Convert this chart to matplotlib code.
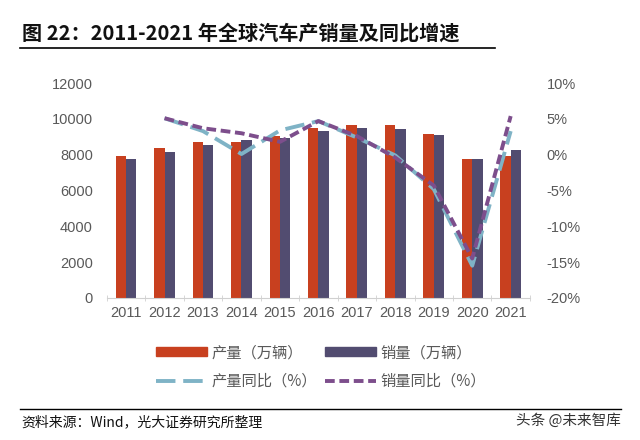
import matplotlib
matplotlib.use("Agg")
import matplotlib.pyplot as plt
import numpy as np
from matplotlib.lines import Line2D
from matplotlib.patches import Patch

plt.rcParams['font.family'] = ['Noto Sans CJK SC', 'DejaVu Sans']

years = ['2011', '2012', '2013', '2014', '2015', '2016', '2017', '2018', '2019', '2020', '2021']
production = [7950, 8380, 8715, 8715, 9030, 9480, 9680, 9680, 9140, 7750, 7950]
sales = [7780, 8170, 8550, 8830, 8920, 9350, 9515, 9460, 9090, 7750, 8250]
# YoY growth (%) starting 2012
prod_yoy = [5.1, 3.3, 0.1, 3.4, 4.7, 2.4, -0.1, -4.8, -15.5, 3.3]
sales_yoy = [5.1, 3.7, 3.0, 1.8, 4.7, 2.6, -0.4, -4.3, -14.5, 5.4]

red = '#C8401F'
navy = '#524C70'
blue = '#7FB3C6'
purple = '#7D4E8C'
gray = '#595959'

fig = plt.figure(figsize=(6.4, 4.4), dpi=100)
ax = fig.add_axes([0.167, 0.323, 0.661, 0.488])
ax2 = ax.twinx()

x = np.arange(len(years))
w = 0.27
ax.bar(x - w / 2, production, width=w, color=red, zorder=2)
ax.bar(x + w / 2, sales, width=w, color=navy, zorder=2)

ax2.plot(x[1:], prod_yoy, color=blue, lw=2.8, dashes=(5, 2))
ax2.plot(x[1:], sales_yoy, color=purple, lw=2.8, dashes=(2.5, 1.2))

ax.set_xlim(-0.5, 10.5)
ax.set_ylim(0, 12000)
ax.set_yticks(range(0, 12001, 2000))
ax2.set_ylim(-20, 10)
ax2.set_yticks(range(-20, 11, 5))
ax2.set_yticklabels([f'{v}%' for v in range(-20, 11, 5)])

ax.set_xticks(x)
ax.set_xticklabels(years)
ax.set_xticks(np.arange(-0.5, 11, 1), minor=True)
ax.tick_params(axis='x', which='major', length=0, pad=6, labelsize=10.5, labelcolor=gray)
ax.tick_params(axis='x', which='minor', length=4, color='#D0D0D0', direction='inout')
ax.tick_params(axis='y', length=0, labelsize=10.5, labelcolor=gray, pad=10)
ax2.tick_params(axis='y', length=0, labelsize=10.5, labelcolor=gray, pad=12)
for lbl in ax.get_xticklabels() + ax.get_yticklabels() + ax2.get_yticklabels():
    lbl.set_fontfamily('Liberation Sans')

for a in (ax, ax2):
    for s in a.spines.values():
        s.set_visible(False)
ax.spines['bottom'].set_visible(True)
ax.spines['bottom'].set_color('#D0D0D0')

# title
fig.text(0.034, 0.925, '图 22：2011-2021 年全球汽车产销量及同比增速', fontsize=14.5,
         fontweight='bold', va='center', ha='left', color='#111111')
fig.add_artist(Line2D([0.031, 0.773], [0.89, 0.89], color='black', lw=1.2))

# legend
handles = [
    Patch(color=red, label='产量（万辆）'),
    Patch(color=navy, label='销量（万辆）'),
    Line2D([], [], color=blue, lw=2.8, dashes=(5, 2), label='产量同比（%）'),
    Line2D([], [], color=purple, lw=2.8, dashes=(2.5, 1.2), label='销量同比（%）'),
]
fig.legend(handles=[handles[0], handles[2], handles[1], handles[3]], ncol=2,
           loc='center', bbox_to_anchor=(0.502, 0.166), frameon=False,
           fontsize=11, labelcolor=gray, handlelength=3.35, handleheight=0.5,
           columnspacing=0.5, handletextpad=0.3, labelspacing=0.75)

# footer
fig.add_artist(Line2D([0.031, 0.97], [0.07, 0.07], color='black', lw=1.0))
fig.text(0.034, 0.04, '资料来源：Wind，光大证券研究所整理', fontsize=10, va='center',
         ha='left', color='#111111')
fig.text(0.97, 0.045, '头条 @未来智库', fontsize=10.5, va='center', ha='right',
         color='#333333')

fig.savefig('out.png', dpi=100)
